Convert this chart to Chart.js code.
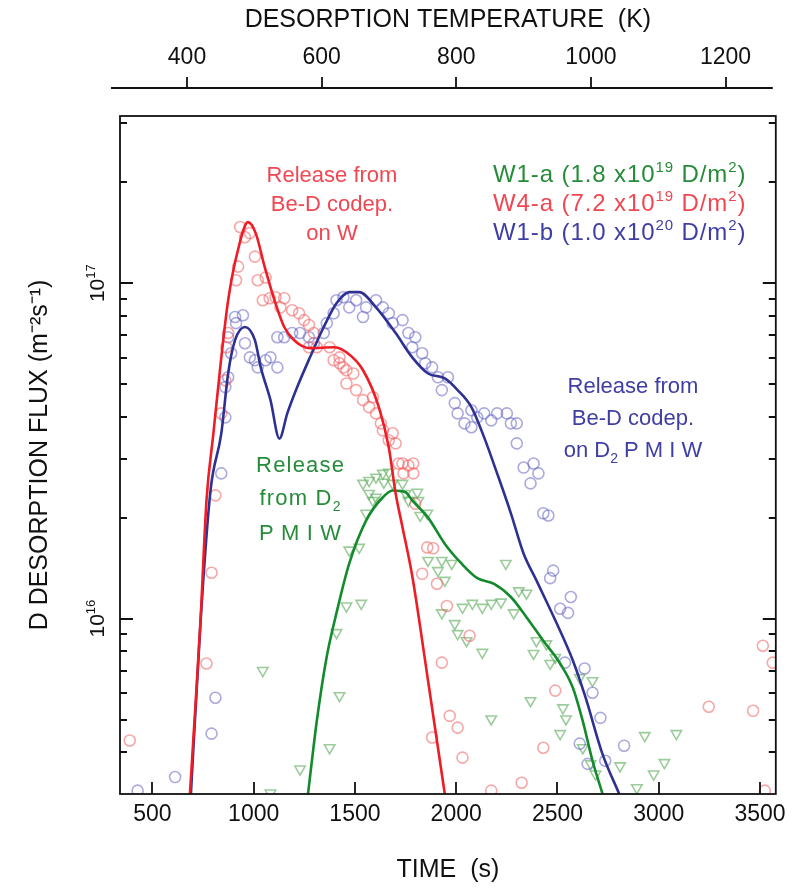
<!DOCTYPE html>
<html><head><meta charset="utf-8">
<script src="https://cdn.jsdelivr.net/npm/chart.js@4.4.1/dist/chart.umd.min.js"></script>
<style>html,body{margin:0;padding:0;background:#fff;}#wrap{width:797px;height:890px;}</style>
</head><body><div id="wrap"><canvas id="c" width="797" height="890"></canvas></div>
<script>
// ---------- tick labels ----------
const xTicks = [500, 1000, 1500, 2000, 2500, 3000, 3500];
const tempTicks = [400, 600, 800, 1000, 1200];
const yMajorTicks = [1e16, 1e17];

// ---------- fitted curves ----------
const fitW4aTime = [685, 714, 738, 767, 801, 835, 874, 923, 972, 1010, 1054, 1103, 1151, 1200, 1278, 1395, 1458, 1540, 1618, 1667, 1701, 1735, 1783, 1861, 1944];
const fitW4aFlux = [2.99e15, 5.69e15, 1.0e16, 2.25e16, 3.56e16, 5.61e16, 8.89e16, 1.26e17, 1.52e17, 1.41e17, 1.12e17, 8.89e16, 7.40e16, 6.76e16, 6.40e16, 6.44e16, 6.22e16, 5.50e16, 4.27e16, 3.24e16, 2.36e16, 1.87e16, 1.34e16, 6.53e15, 2.99e15];

const fitW1bTime = [690, 738, 787, 840, 874, 908, 957, 1006, 1035, 1083, 1127, 1166, 1215, 1278, 1346, 1409, 1472, 1521, 1604, 1701, 1783, 1861, 1944, 2007, 2075, 2138, 2202, 2270, 2333, 2396, 2513, 2576, 2639, 2722, 2804];
const fitW1bFlux = [2.99e15, 9.86e15, 2.41e16, 3.56e16, 5.38e16, 6.76e16, 7.40e16, 6.76e16, 5.61e16, 4.48e16, 3.44e16, 4.09e16, 4.90e16, 6.01e16, 7.40e16, 8.71e16, 9.40e16, 9.40e16, 8.47e16, 7.10e16, 6.01e16, 5.38e16, 5.20e16, 4.80e16, 4.27e16, 3.47e16, 2.71e16, 2.06e16, 1.56e16, 1.30e16, 9.20e15, 7.50e15, 5.81e15, 3.95e15, 3.01e15];

const fitW1aTime = [1268, 1312, 1360, 1409, 1472, 1555, 1638, 1686, 1750, 1783, 1861, 1944, 2026, 2104, 2187, 2270, 2347, 2430, 2513, 2576, 2624, 2673, 2722];
const fitW1aFlux = [2.99e15, 4.97e15, 7.66e15, 1.04e16, 1.46e16, 1.96e16, 2.30e16, 2.41e16, 2.38e16, 2.25e16, 2.00e16, 1.67e16, 1.46e16, 1.32e16, 1.27e16, 1.16e16, 1.01e16, 8.59e15, 7.35e15, 6.22e15, 4.97e15, 3.77e15, 3.01e15];

// ---------- measured points ----------
const w4aTime = [388, 767, 792, 811, 840, 860, 865, 874, 913, 923, 933, 957, 981, 1006, 1020, 1059, 1045, 1079, 1108, 1151, 1132, 1190, 1224, 1249, 1273, 1297, 1273, 1312, 1375, 1424, 1443, 1395, 1424, 1458, 1492, 1458, 1506, 1540, 1589, 1570, 1604, 1628, 1638, 1686, 1667, 1701, 1735, 1788, 1715, 1764, 1788, 1740, 1798, 1857, 1886, 1832, 1905, 1954, 2066, 1929, 1968, 2007, 1881, 2031, 2173, 2323, 2430, 2489, 3247, 3466, 3514, 3563, 3524];
const w4aFlux = [4.33e15, 7.35e15, 1.37e16, 2.33e16, 4.09e16, 5.13e16, 6.44e16, 7.10e16, 1.02e17, 1.12e17, 1.47e17, 1.37e17, 1.41e17, 1.20e17, 1.02e17, 1.04e17, 8.89e16, 9.02e16, 9.08e16, 9.02e16, 8.47e16, 8.30e16, 8.13e16, 7.76e16, 7.50e16, 7.10e16, 6.44e16, 6.44e16, 6.44e16, 6.01e16, 5.61e16, 5.89e16, 5.77e16, 5.50e16, 5.38e16, 5.02e16, 4.80e16, 4.48e16, 4.57e16, 4.27e16, 4.09e16, 3.82e16, 3.64e16, 3.57e16, 3.40e16, 3.33e16, 2.90e16, 2.90e16, 2.90e16, 2.86e16, 2.71e16, 2.71e16, 2.20e16, 1.63e16, 1.62e16, 1.36e16, 1.27e16, 1.09e16, 8.89e15, 7.39e15, 5.13e15, 4.73e15, 4.42e15, 3.85e15, 3.07e15, 3.24e15, 4.12e15, 6.10e15, 5.46e15, 5.31e15, 8.30e15, 7.39e15, 3.07e15];

const w1bTime = [427, 612, 792, 811, 840, 860, 860, 874, 889, 874, 908, 947, 913, 957, 981, 1006, 1020, 1059, 1083, 1117, 1117, 1151, 1190, 1229, 1273, 1297, 1346, 1361, 1395, 1409, 1443, 1472, 1506, 1540, 1555, 1604, 1638, 1667, 1686, 1735, 1764, 1798, 1783, 1832, 1847, 1881, 1910, 1959, 1929, 1993, 2007, 2041, 2075, 2104, 2138, 2173, 2075, 2202, 2250, 2270, 2299, 2299, 2333, 2382, 2406, 2367, 2430, 2455, 2479, 2464, 2566, 2513, 2552, 2537, 2634, 2673, 2712, 2610, 2649, 2736, 2829];
const w1bFlux = [3.07e15, 3.37e15, 4.54e15, 5.81e15, 2.71e16, 3.98e16, 4.90e16, 5.24e16, 6.18e16, 6.90e16, 7.93e16, 8.02e16, 7.60e16, 6.62e16, 6.01e16, 5.89e16, 5.61e16, 5.89e16, 6.01e16, 5.61e16, 6.90e16, 6.90e16, 7.10e16, 7.10e16, 6.90e16, 6.62e16, 7.10e16, 7.60e16, 8.13e16, 8.89e16, 9.08e16, 8.47e16, 8.89e16, 7.93e16, 8.47e16, 8.89e16, 8.47e16, 8.13e16, 7.60e16, 7.76e16, 7.10e16, 6.90e16, 6.44e16, 6.18e16, 5.77e16, 5.61e16, 5.24e16, 5.24e16, 4.80e16, 4.39e16, 4.09e16, 3.82e16, 4.18e16, 3.98e16, 4.09e16, 3.90e16, 3.72e16, 4.09e16, 4.09e16, 3.82e16, 3.82e16, 3.33e16, 2.82e16, 2.90e16, 2.71e16, 2.53e16, 2.06e16, 2.03e16, 1.39e16, 1.32e16, 1.16e16, 1.07e16, 1.04e16, 7.39e15, 7.10e15, 6.01e15, 5.06e15, 4.24e15, 3.69e15, 3.77e15, 4.18e15];

const w1aTime = [1045, 1083, 1229, 1375, 1424, 1409, 1458, 1531, 1472, 1521, 1555, 1589, 1540, 1570, 1604, 1638, 1667, 1643, 1570, 1604, 1686, 1735, 1750, 1808, 1764, 1813, 1822, 1857, 1861, 1929, 1978, 1910, 1944, 2245, 1929, 1993, 2007, 2031, 2080, 2129, 2173, 2221, 2309, 2347, 2284, 2051, 2129, 2396, 2445, 2382, 2464, 2489, 2610, 2673, 2367, 2527, 2173, 2542, 2513, 2625, 2664, 2688, 2809, 2892, 2931, 3087, 3028, 2975];
const w1aFlux = [7.0e15, 3.02e15, 3.56e15, 4.12e15, 5.89e15, 9.08e15, 1.09e16, 1.11e16, 1.60e16, 1.63e16, 2.06e16, 2.25e16, 2.53e16, 2.58e16, 2.64e16, 2.71e16, 2.73e16, 2.55e16, 2.36e16, 2.30e16, 2.53e16, 2.53e16, 2.36e16, 2.38e16, 2.25e16, 2.25e16, 2.03e16, 2.06e16, 1.49e16, 1.49e16, 1.46e16, 1.39e16, 1.30e16, 1.46e16, 1.04e16, 9.66e15, 9.02e15, 1.08e16, 1.11e16, 1.08e16, 1.11e16, 1.12e16, 1.21e16, 1.19e16, 1.04e16, 8.59e15, 7.93e15, 8.59e15, 8.41e15, 7.87e15, 7.35e15, 7.66e15, 6.67e15, 6.53e15, 5.69e15, 5.42e15, 5.02e15, 5.02e15, 4.54e15, 4.12e15, 3.69e15, 3.44e15, 3.64e15, 3.13e15, 4.48e15, 4.54e15, 3.72e15, 3.44e15];

// ---------- text ----------
const FONT = '"Liberation Sans", Arial, sans-serif';
const RED_T = 'rgb(240,72,82)', BLUE_T = 'rgb(62,62,165)', GREEN_T = 'rgb(38,140,58)';

const zip = (a, b) => a.map((v, i) => ({x: v, y: b[i]}));

// rich text with superscript (s:1) / subscript (s:-1) and optional letter spacing
function drawRich(ctx, x, y, parts, size, align, ls) {
  ls = ls || 0;
  const chars = [];
  parts.forEach(p => { for (const ch of p.t) chars.push({ch, s: p.s || 0}); });
  const widths = chars.map(c => { ctx.font = (c.s ? Math.round(size * 0.62) : size) + 'px ' + FONT; return ctx.measureText(c.ch).width; });
  const total = widths.reduce((s, v) => s + v, 0) + ls * (chars.length - 1);
  let cx = align === 'center' ? x - total / 2 : (align === 'right' ? x - total : x);
  ctx.textAlign = 'left';
  chars.forEach((c, i) => {
    ctx.font = (c.s ? Math.round(size * 0.62) : size) + 'px ' + FONT;
    const dy = c.s === 1 ? -size * 0.42 : (c.s === -1 ? size * 0.25 : 0);
    ctx.fillText(c.ch, cx, y + dy);
    cx += widths[i] + ls;
  });
}

const deco = {
  id: 'deco',
  afterDraw(chart) {
    const {ctx, chartArea: a, scales} = chart;
    const x = scales.x, y = scales.y, x2 = scales.x2;
    ctx.save();
    ctx.strokeStyle = '#111'; ctx.lineWidth = 1.8;
    ctx.strokeRect(a.left, a.top, a.right - a.left, a.bottom - a.top);
    ctx.beginPath();
    xTicks.forEach(v => { const px = Math.round(x.getPixelForValue(v)); ctx.moveTo(px, a.bottom); ctx.lineTo(px, a.bottom - 12); });
    for (let e = 15; e <= 17; e++) for (let m = 1; m <= 9; m++) {
      const v = m * Math.pow(10, e);
      if (v <= y.min || v >= y.max) continue;
      const py = Math.round(y.getPixelForValue(v));
      const L = m === 1 ? 13 : 7;
      ctx.moveTo(a.left, py); ctx.lineTo(a.left + L, py);
      ctx.moveTo(a.right, py); ctx.lineTo(a.right - L, py);
    }
    // top temperature axis
    const ty = a.top - 28;
    ctx.moveTo(a.left - 9, ty); ctx.lineTo(a.right - 3, ty);
    tempTicks.forEach(v => { const px = Math.round(x2.getPixelForValue(v)); ctx.moveTo(px, ty); ctx.lineTo(px, ty - 11); });
    ctx.stroke();

    // y tick labels (rotated, with superscript)
    ctx.fillStyle = '#111'; ctx.textBaseline = 'alphabetic';
    yMajorTicks.forEach(v => {
      const py = y.getPixelForValue(v);
      ctx.save(); ctx.translate(104, py); ctx.rotate(-Math.PI / 2);
      drawRich(ctx, 0, 0, [{t: '10'}, {t: String(Math.round(Math.log10(v))), s: 1}], 21, 'center');
      ctx.restore();
    });

    // annotations
    const S = 22;
    ctx.fillStyle = RED_T;
    drawRich(ctx, 332, 182, [{t: 'Release from'}], S, 'center');
    drawRich(ctx, 332, 211, [{t: 'Be-D codep.'}], S, 'center');
    drawRich(ctx, 332, 240, [{t: 'on W'}], S, 'center');

    ctx.fillStyle = BLUE_T;
    drawRich(ctx, 633, 393, [{t: 'Release from'}], S, 'center');
    drawRich(ctx, 633, 425, [{t: 'Be-D codep.'}], S, 'center');
    drawRich(ctx, 633, 457, [{t: 'on D'}, {t: '2', s: -1}, {t: ' P M I W'}], S, 'center');

    ctx.fillStyle = GREEN_T;
    drawRich(ctx, 300, 472, [{t: 'Release'}], S, 'center', 1.2);
    drawRich(ctx, 300, 505, [{t: 'from D'}, {t: '2', s: -1}], S, 'center', 1.2);
    drawRich(ctx, 300, 540, [{t: 'P M I W'}], S, 'center', 0.6);

    // legend
    const L = 24, lx = 493, LS = 0.9;
    ctx.fillStyle = GREEN_T;
    drawRich(ctx, lx, 182, [{t: 'W1-a (1.8 x10'}, {t: '19', s: 1}, {t: ' D/m'}, {t: '2', s: 1}, {t: ')'}], L, 'left', LS);
    ctx.fillStyle = RED_T;
    drawRich(ctx, lx, 211, [{t: 'W4-a (7.2 x10'}, {t: '19', s: 1}, {t: ' D/m'}, {t: '2', s: 1}, {t: ')'}], L, 'left', LS);
    ctx.fillStyle = BLUE_T;
    drawRich(ctx, lx, 240, [{t: 'W1-b (1.0 x10'}, {t: '20', s: 1}, {t: ' D/m'}, {t: '2', s: 1}, {t: ')'}], L, 'left', LS);
    ctx.restore();
  }
};

const tickFont = {family: FONT, size: 23};
const titleFont = {family: FONT, size: 25};
const plain = v => String(v);

new Chart(document.getElementById('c'), {
  type: 'line',
  data: {
    datasets: [
      {label: 'W4-a fit', data: zip(fitW4aTime, fitW4aFlux), borderColor: '#ee1c25', borderWidth: 2.6, pointRadius: 0, tension: 0.4, cubicInterpolationMode: 'monotone', order: 0},
      {label: 'W1-b fit', data: zip(fitW1bTime, fitW1bFlux), borderColor: '#2e3192', borderWidth: 2.6, pointRadius: 0, tension: 0.4, cubicInterpolationMode: 'monotone', order: 0},
      {label: 'W1-a fit', data: zip(fitW1aTime, fitW1aFlux), borderColor: '#138a2c', borderWidth: 2.6, pointRadius: 0, tension: 0.4, cubicInterpolationMode: 'monotone', order: 0},
      {label: 'W4-a', data: zip(w4aTime, w4aFlux), showLine: false, pointStyle: 'circle', pointRadius: 5.5, borderWidth: 1.6, borderColor: 'rgba(240,95,95,0.55)', backgroundColor: 'rgba(0,0,0,0)', order: 1},
      {label: 'W1-b', data: zip(w1bTime, w1bFlux), showLine: false, pointStyle: 'circle', pointRadius: 5.5, borderWidth: 1.6, borderColor: 'rgba(100,100,195,0.55)', backgroundColor: 'rgba(0,0,0,0)', order: 1},
      {label: 'W1-a', data: zip(w1aTime, w1aFlux), showLine: false, pointStyle: 'triangle', rotation: 180, pointRadius: 6, borderWidth: 1.6, borderColor: 'rgba(90,170,90,0.6)', backgroundColor: 'rgba(0,0,0,0)', order: 1}
    ]
  },
  options: {
    responsive: false, animation: false, devicePixelRatio: 1,
    layout: {padding: {left: 0, right: 11, top: 0, bottom: 0}},
    plugins: {legend: {display: false}, tooltip: {enabled: false}},
    scales: {
      x: {
        type: 'linear', position: 'bottom', min: 340, max: 3578,
        afterBuildTicks: s => { s.ticks = xTicks.map(v => ({value: v})); },
        ticks: {font: tickFont, color: '#111', padding: 7, maxRotation: 0, autoSkip: false, callback: plain},
        grid: {display: false, drawTicks: false}, border: {display: false},
        title: {display: true, text: 'TIME  (s)', font: titleFont, color: '#111', padding: {top: 0, bottom: 5}},
        afterFit: s => { s.height = 96; }
      },
      x2: {
        type: 'linear', position: 'top', min: 300.5, max: 1274.6,
        afterBuildTicks: s => { s.ticks = tempTicks.map(v => ({value: v})); },
        ticks: {font: tickFont, color: '#111', padding: 45, maxRotation: 0, autoSkip: false, callback: plain},
        grid: {display: false, drawTicks: false}, border: {display: false},
        title: {display: true, text: 'DESORPTION TEMPERATURE  (K)', font: titleFont, color: '#111', padding: {top: 5, bottom: 0}},
        afterFit: s => { s.height = 116; }
      },
      y: {
        type: 'logarithmic', position: 'left', min: 3e15, max: 3.15e17,
        afterBuildTicks: s => { s.ticks = yMajorTicks.map(v => ({value: v})); },
        ticks: {display: false},
        grid: {display: false, drawTicks: false}, border: {display: false},
        title: {display: true, text: 'D DESORPTION FLUX (m\u207B\u00B2s\u207B\u00B9)', font: titleFont, color: '#111', padding: {top: 25, bottom: 0}},
        afterFit: s => { s.width = 120; }
      }
    }
  },
  plugins: [deco]
});
</script>
</body></html>
